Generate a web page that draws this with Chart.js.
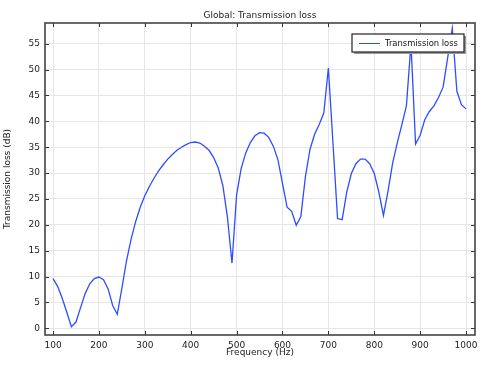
<!DOCTYPE html>
<html>
<head>
<meta charset="utf-8">
<script src="https://cdn.jsdelivr.net/npm/chart.js@4/dist/chart.umd.min.js"></script>
<style>
  html, body { margin: 0; padding: 0; background: #fff; }
  #wrap { width: 484px; height: 366px; }
</style>
</head>
<body>
<div id="wrap"><canvas id="tl" width="484" height="366"></canvas></div>
<script>
const freqs = [100, 110, 120, 130, 140, 150, 160, 170, 180, 190,
  200, 210, 220, 230, 240, 250, 260, 270, 280, 290,
  300, 310, 320, 330, 340, 350, 360, 370, 380, 390,
  400, 410, 420, 430, 440, 450, 460, 470, 480, 490,
  500, 510, 520, 530, 540, 550, 560, 570, 580, 590,
  600, 610, 620, 630, 640, 650, 660, 670, 680, 690,
  700, 710, 720, 730, 740, 750, 760, 770, 780, 790,
  800, 810, 820, 830, 840, 850, 860, 870, 880, 890,
  900, 910, 920, 930, 940, 950, 960, 970, 980, 990, 1000];

const lossDb = [9.6, 8.1, 5.8, 3.1, 0.3, 1.2, 4.0, 6.7, 8.6, 9.6,
  9.9, 9.4, 7.6, 4.4, 2.7, 7.7, 13.0, 17.2, 20.6, 23.4,
  25.6, 27.4, 29.0, 30.4, 31.6, 32.7, 33.6, 34.4, 35.0, 35.5,
  35.9, 36.0, 35.8, 35.2, 34.4, 33.0, 31.0, 27.6, 21.5, 12.6,
  25.8, 30.9, 33.9, 35.9, 37.2, 37.8, 37.7, 36.9, 35.2, 32.6,
  28.0, 23.4, 22.6, 19.9, 21.6, 29.3, 34.6, 37.5, 39.4, 41.6,
  50.3, 35.8, 21.2, 21.0, 26.3, 29.9, 31.8, 32.7, 32.7, 31.8,
  29.9, 26.3, 21.8, 26.5, 31.9, 35.8, 39.3, 43.0, 55.0, 35.6,
  37.3, 40.3, 41.9, 43.0, 44.6, 46.6, 52.3, 58.0, 45.8, 43.2, 42.4];

const xTicks = [100, 200, 300, 400, 500, 600, 700, 800, 900, 1000];
const yTicks = [0, 5, 10, 15, 20, 25, 30, 35, 40, 45, 50, 55];

const chartTitle = 'Global: Transmission loss';
const xTitle = 'Frequency (Hz)';
const yTitle = 'Transmission loss (dB)';
const seriesName = 'Transmission loss';

const FONT = '"DejaVu Sans", sans-serif';
const TXT = '#222';
const FSIZE = 9;

// frame, inward ticks, titles and the boxed legend
const decor = {
  id: 'decor',
  afterDatasetsDraw(chart) {
    const { ctx, chartArea: a, scales } = chart;
    ctx.save();
    ctx.strokeStyle = '#333';
    ctx.lineWidth = 1;
    ctx.beginPath();
    xTicks.forEach(v => {
      const x = Math.round(scales.x.getPixelForValue(v)) + 0.5;
      ctx.moveTo(x, a.bottom); ctx.lineTo(x, a.bottom - 4);
      ctx.moveTo(x, a.top); ctx.lineTo(x, a.top + 4);
    });
    yTicks.forEach(v => {
      const y = Math.round(scales.y.getPixelForValue(v)) + 0.5;
      ctx.moveTo(a.left, y); ctx.lineTo(a.left + 4, y);
      ctx.moveTo(a.right, y); ctx.lineTo(a.right - 4, y);
    });
    ctx.stroke();

    ctx.strokeStyle = '#444';
    ctx.lineWidth = 1.6;
    ctx.strokeRect(a.left, a.top, a.right - a.left, a.bottom - a.top);

    // legend
    const lx = 352, ly = 34, lw = 112, lh = 18;
    ctx.fillStyle = '#999';
    ctx.fillRect(lx + 2, ly + 2, lw, lh);
    ctx.fillStyle = '#fff';
    ctx.fillRect(lx, ly, lw, lh);
    ctx.strokeStyle = '#222';
    ctx.lineWidth = 1.2;
    ctx.strokeRect(lx, ly, lw, lh);
    ctx.strokeStyle = chart.data.datasets[0].borderColor;
    ctx.lineWidth = 1;
    ctx.beginPath();
    ctx.moveTo(lx + 7, ly + 9.5); ctx.lineTo(lx + 28, ly + 9.5);
    ctx.stroke();
    ctx.fillStyle = '#111';
    ctx.font = '8.4px ' + FONT;
    ctx.textBaseline = 'middle';
    ctx.textAlign = 'left';
    ctx.fillText(chart.data.datasets[0].label, lx + 33, ly + 9.5);

    // titles
    ctx.font = FSIZE + 'px ' + FONT;
    ctx.fillStyle = TXT;
    ctx.textAlign = 'center';
    ctx.fillText(chartTitle, (a.left + a.right) / 2, 16);
    ctx.fillText(xTitle, (a.left + a.right) / 2, 353);
    ctx.translate(8, (a.top + a.bottom) / 2);
    ctx.rotate(-Math.PI / 2);
    ctx.fillText(yTitle, 0, 0);
    ctx.restore();
  }
};

const points = freqs.map((f, i) => ({ x: f, y: lossDb[i] }));

new Chart(document.getElementById('tl'), {
  type: 'line',
  data: {
    datasets: [{
      label: seriesName,
      data: points,
      borderColor: '#2f4dff',
      borderWidth: 1.3,
      pointRadius: 0,
      fill: false,
      tension: 0,
    }],
  },
  options: {
    responsive: false,
    animation: false,
    layout: { padding: { top: 23, right: 9, left: 0, bottom: 0 } },
    plugins: {
      legend: { display: false },
      title: { display: false },
      tooltip: { enabled: false },
    },
    scales: {
      x: {
        type: 'linear',
        min: 82.5,
        max: 1019.5,
        afterFit: (s) => { s.height = 31; },
        afterBuildTicks: (s) => { s.ticks = xTicks.map(v => ({ value: v })); },
        grid: { color: '#e6e6e6', drawTicks: false },
        border: { display: false },
        ticks: {
          color: TXT, font: { family: FONT, size: FSIZE }, padding: 5, maxRotation: 0,
          callback: (v) => String(v),
        },
      },
      y: {
        min: -1.3,
        max: 59,
        afterFit: (s) => { s.width = 45; },
        afterBuildTicks: (s) => { s.ticks = yTicks.map(v => ({ value: v })); },
        grid: { color: '#e6e6e6', drawTicks: false },
        border: { display: false },
        ticks: {
          color: TXT, font: { family: FONT, size: FSIZE }, padding: 5,
          callback: (v) => String(v),
        },
      },
    },
  },
  plugins: [decor],
});
</script>
</body>
</html>
